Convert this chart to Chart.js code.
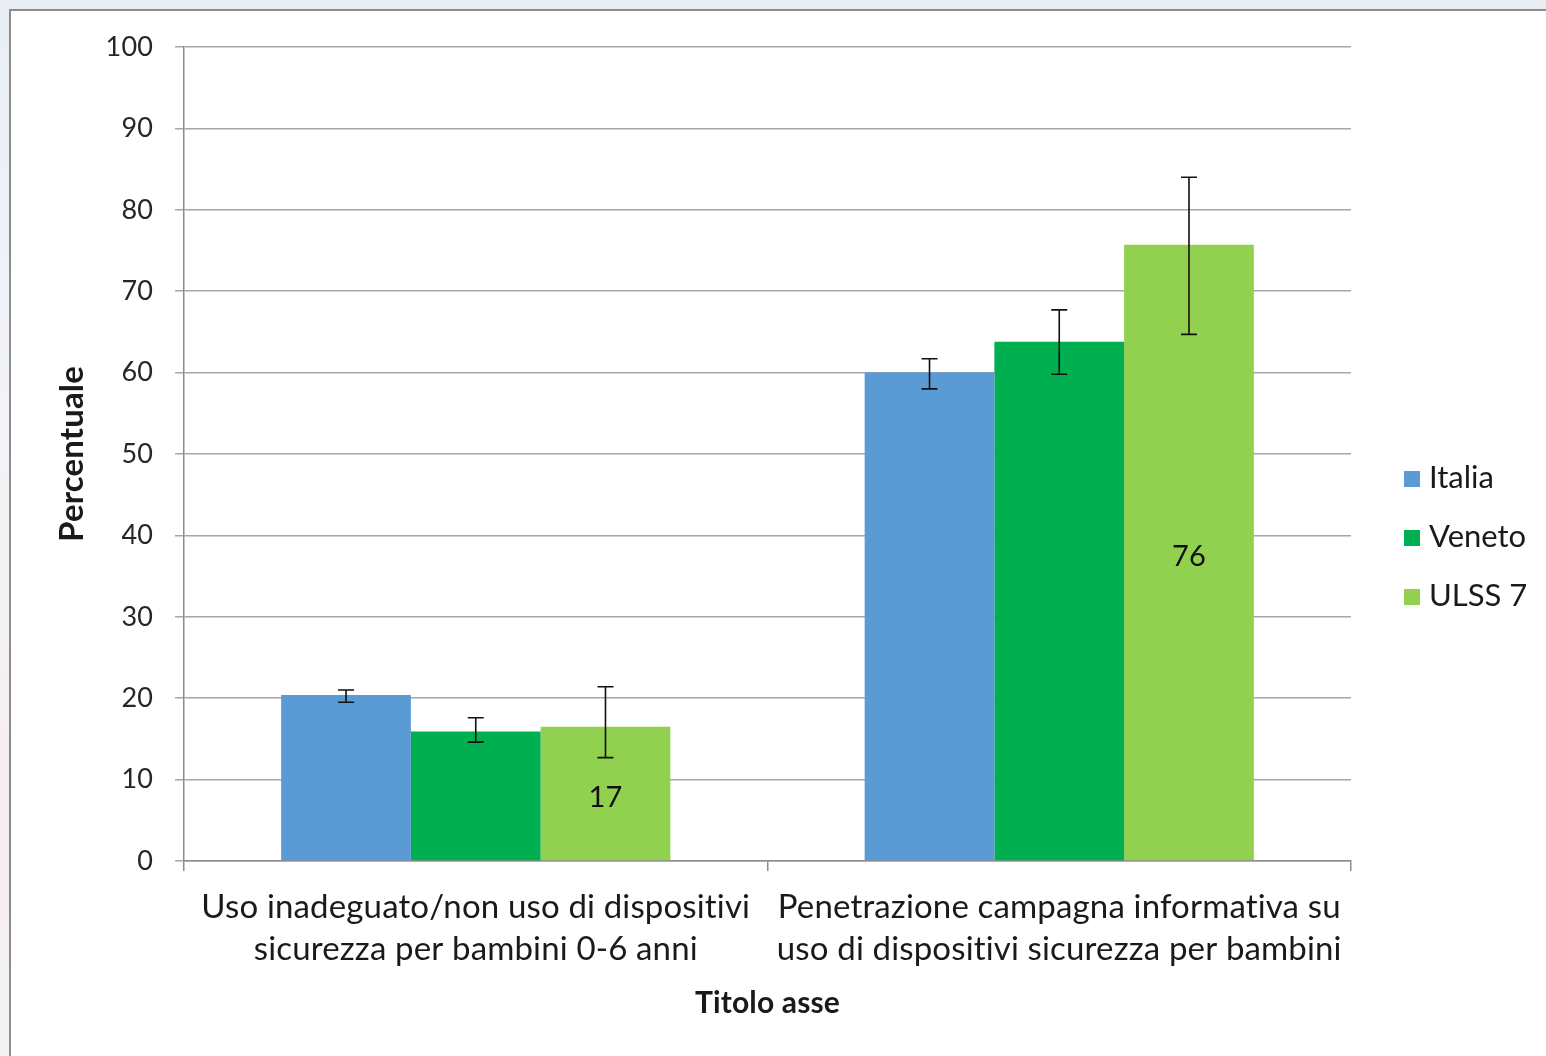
<!DOCTYPE html>
<html>
<head>
<meta charset="utf-8">
<script src="https://cdn.jsdelivr.net/npm/chart.js@4"></script>
<style>
  html, body { margin: 0; padding: 0; width: 1546px; height: 1056px; overflow: hidden;
    background: linear-gradient(180deg, #e9eef4 0%, #f2f4f7 40%, #f6eeee 80%, #f3f3f5 100%); }
  #frame { position: absolute; left: 9px; top: 9px; width: 1560px; height: 1070px;
    background: #fff; border: 2px solid #8c8c8c; box-sizing: border-box; }
  #c { position: absolute; left: 0; top: 0; }
  .leg { position: absolute; left: 1404px; font-family: Lato, "Liberation Sans", sans-serif;
    font-size: 31px; color: #1a1a1a; height: 34px; line-height: 34px; white-space: nowrap; }
  .leg span.sw { display: inline-block; width: 16px; height: 16px; margin-right: 9px; vertical-align: 1px; }
</style>
</head>
<body>
<div id="frame"></div>
<canvas id="c" width="1546" height="1056"></canvas>
<div id="legend"></div>
<script>
const categories = [
  ['Uso inadeguato/non uso di dispositivi', 'sicurezza per bambini 0-6 anni'],
  ['Penetrazione campagna informativa su', 'uso di dispositivi sicurezza per bambini']
];
const seriesNames = ['Italia', 'Veneto', 'ULSS 7'];
const italia = [20.4, 60.0];
const veneto = [15.9, 63.8];
const ulss7 = [16.5, 75.7];
const italiaLow = [19.5, 58.0];
const italiaHigh = [21.0, 61.7];
const venetoLow = [14.6, 59.8];
const venetoHigh = [17.6, 67.7];
const ulss7Low = [12.7, 64.7];
const ulss7High = [21.4, 84.0];
const yTicks = [0, 10, 20, 30, 40, 50, 60, 70, 80, 90, 100];
const colors = ['#5B9BD5', '#00B050', '#92D050'];

const FONT = 'Lato, "Liberation Sans", sans-serif';

const noLigatures = {
  id: 'noLigatures',
  beforeDraw(chart) { chart.ctx.letterSpacing = '0.15px'; }
};

const errorBars = {
  id: 'errorBars',
  afterDatasetsDraw(chart) {
    const ctx = chart.ctx;
    const y = chart.scales.y;
    chart.data.datasets.forEach((ds, di) => {
      const meta = chart.getDatasetMeta(di);
      meta.data.forEach((el, i) => {
        const yHi = y.getPixelForValue(ds.errHigh[i]);
        const yLo = y.getPixelForValue(ds.errLow[i]);
        ctx.save();
        ctx.strokeStyle = '#111';
        ctx.lineWidth = 1.6;
        ctx.beginPath();
        ctx.moveTo(el.x, yHi); ctx.lineTo(el.x, yLo);
        ctx.moveTo(el.x - 8, yHi); ctx.lineTo(el.x + 8, yHi);
        ctx.moveTo(el.x - 8, yLo); ctx.lineTo(el.x + 8, yLo);
        ctx.stroke();
        ctx.restore();
      });
    });
  }
};

const valueLabels = {
  id: 'valueLabels',
  afterDatasetsDraw(chart) {
    const ctx = chart.ctx;
    const y = chart.scales.y;
    const di = 2;
    const ds = chart.data.datasets[di];
    chart.getDatasetMeta(di).data.forEach((el, i) => {
      const v = ds.data[i];
      ctx.save();
      ctx.fillStyle = '#111';
      ctx.font = '29px ' + FONT;
      ctx.textAlign = 'center';
      ctx.textBaseline = 'middle';
      ctx.fillText(String(Math.round(v)), el.x, y.getPixelForValue(v / 2) + 4);
      ctx.restore();
    });
  }
};

const chart = new Chart(document.getElementById('c'), {
  type: 'bar',
  data: {
    labels: categories,
    datasets: [
      { label: seriesNames[0], data: italia, errLow: italiaLow, errHigh: italiaHigh, backgroundColor: colors[0] },
      { label: seriesNames[1], data: veneto, errLow: venetoLow, errHigh: venetoHigh, backgroundColor: colors[1] },
      { label: seriesNames[2], data: ulss7, errLow: ulss7Low, errHigh: ulss7High, backgroundColor: colors[2] }
    ]
  },
  options: {
    responsive: false,
    animation: false,
    events: [],
    layout: { padding: { left: 0, right: 195, top: 47, bottom: 0 } },
    datasets: { bar: { categoryPercentage: 0.667, barPercentage: 1.0 } },
    plugins: { legend: { display: false }, tooltip: { enabled: false } },
    scales: {
      x: {
        grid: { display: true, drawOnChartArea: false, drawTicks: true, tickLength: 10, offset: true, color: '#8c8c8c', lineWidth: 1.5 },
        border: { display: true, color: '#8c8c8c', width: 1.5 },
        ticks: { font: { family: FONT, size: 33, lineHeight: '42px' }, color: '#1a1a1a', padding: 15, maxRotation: 0, autoSkip: false },
        title: { display: true, text: 'Titolo asse', font: { family: FONT, size: 30, weight: 'bold' }, color: '#1a1a1a', padding: { top: 0, bottom: 35 } },
        afterFit(s) { s.height = 195; }
      },
      y: {
        min: 0, max: 100,
        afterBuildTicks(s) { s.ticks = yTicks.map(v => ({ value: v })); },
        grid: { color: '#a6a6a6', lineWidth: 1.5, tickLength: 9 },
        border: { display: true, color: '#8c8c8c', width: 1.5 },
        ticks: { font: { family: FONT, size: 27 }, color: '#262626', padding: 22 },
        title: { display: true, text: 'Percentuale', font: { family: FONT, size: 33, weight: 'bold' }, color: '#1a1a1a', padding: { top: 53, bottom: 0 } },
        afterFit(s) { s.width = 184; }
      }
    }
  },
  plugins: [noLigatures, errorBars, valueLabels]
});

const leg = document.getElementById('legend');
const legY = [476, 535, 594];
seriesNames.forEach((n, i) => {
  const d = document.createElement('div');
  d.className = 'leg';
  d.style.top = (legY[i] - 17) + 'px';
  d.innerHTML = '<span class="sw" style="background:' + colors[i] + '"></span>' + n;
  leg.appendChild(d);
});
</script>
</body>
</html>
